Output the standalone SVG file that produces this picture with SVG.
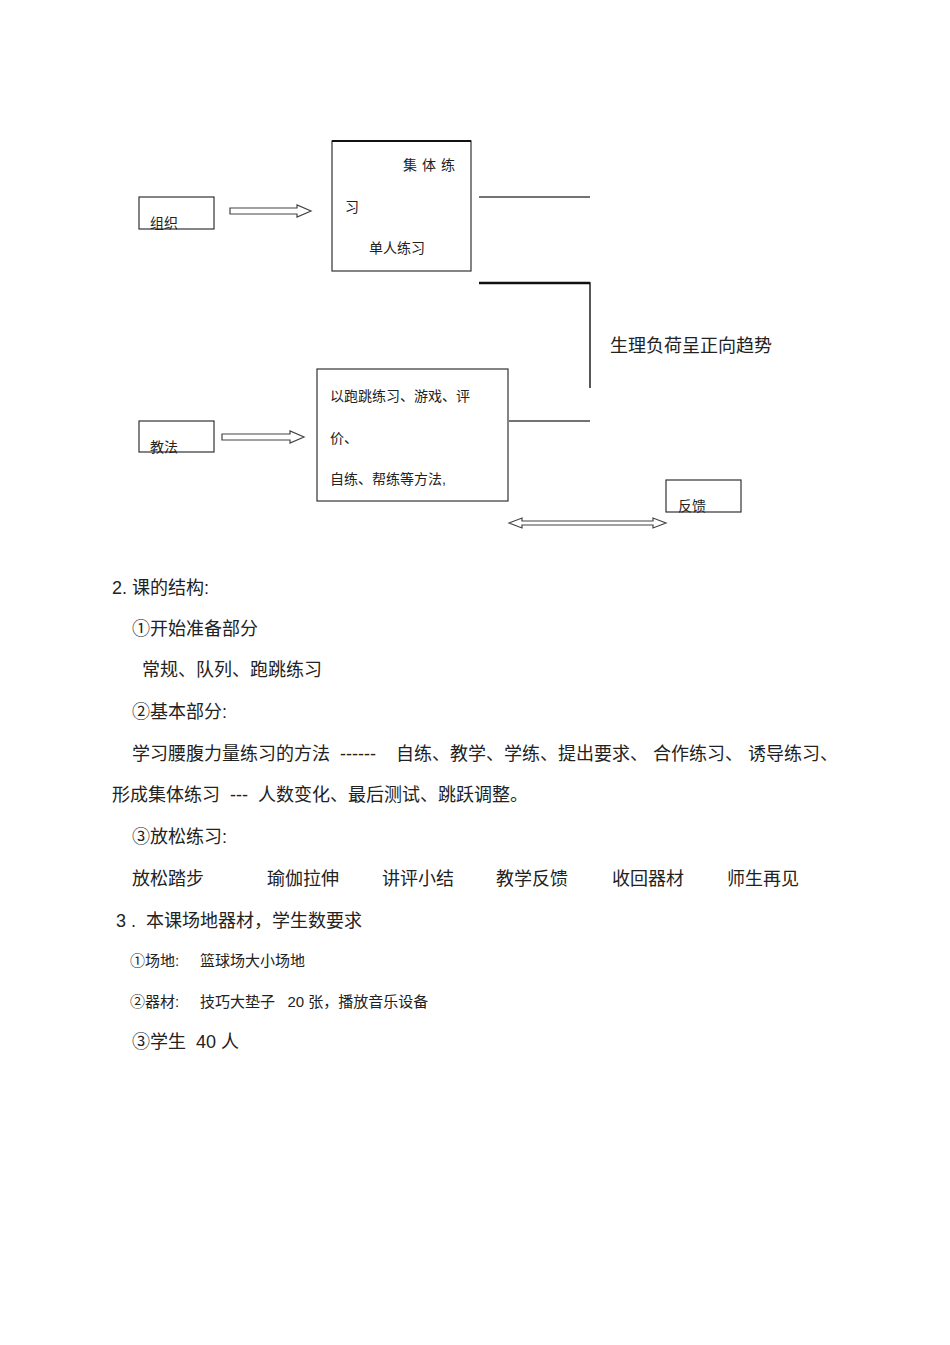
<svg xmlns="http://www.w3.org/2000/svg" width="950" height="1345" viewBox="0 0 950 1345">
<style>
text{font-family:"Liberation Sans","Noto Sans CJK SC",sans-serif;fill:#222}
.s{font-size:14px}.m{font-size:18px}.t{font-size:15px}
.b{fill:#fff;stroke:#333;stroke-width:1.2}
.l{stroke:#444;stroke-width:1.3;fill:none}
.a{fill:#fff;stroke:#444;stroke-width:1.2}
</style>
<rect width="950" height="1345" fill="#fff"/>
<g id="n-zuzhi"><rect class="b" x="139" y="197" width="75" height="32"/><text class="s" x="150" y="228">组织</text></g>
<g id="n-box1"><rect class="b" x="332" y="141" width="139" height="130"/><line x1="332" y1="141" x2="471" y2="141" stroke="#111" stroke-width="2"/>
<text class="s" x="403" y="170" letter-spacing="5">集体练</text><text class="s" x="345" y="212">习</text><text class="s" x="369" y="253">单人练习</text></g>
<g id="n-jiaofa"><rect class="b" x="139" y="421" width="75" height="31"/><text class="s" x="150" y="452">教法</text></g>
<g id="n-box2"><rect class="b" x="317" y="369" width="191" height="132"/>
<text class="s" x="330" y="401">以跑跳练习、游戏、评</text><text class="s" x="330" y="443">价、</text><text class="s" x="330" y="484">自练、帮练等方法,</text></g>
<g id="n-fankui"><rect class="b" x="666" y="480" width="75" height="32"/><text class="s" x="678" y="511">反馈</text></g>
<g id="n-label"><text class="m" x="610" y="352">生理负荷呈正向趋势</text></g>
<g id="connectors">
<path class="a" d="M230 208H297V205L311 211L297 217V214H230Z"/>
<path class="a" d="M222 434H290V431L304 437L290 443V440H222Z"/>
<path class="a" d="M509 523L522 518V521H653V518L666 523L653 528V525H522V528Z"/>
<line class="l" x1="479" y1="197" x2="590" y2="197"/>
<path d="M479 283H590V388" fill="none" stroke="#222" stroke-width="1.5"/>
<line x1="479" y1="283" x2="590" y2="283" stroke="#111" stroke-width="2.5"/>
<line class="l" x1="509" y1="421" x2="590" y2="421"/>
</g>
<g class="m">
<text x="112" y="594">2.  课的结构:</text>
<text x="132" y="635">①开始准备部分</text>
<text x="142" y="676">常规、队列、跑跳练习</text>
<text x="132" y="718">②基本部分:</text>
<text x="132" y="760" xml:space="preserve">学习腰腹力量练习的方法  ------    自练、教学、学练、提出要求、 合作练习、 诱导练习、</text>
<text x="112" y="801" xml:space="preserve">形成集体练习  ---  人数变化、最后测试、跳跃调整。</text>
<text x="132" y="843">③放松练习:</text>
<text x="132" y="885">放松踏步</text><text x="267" y="885">瑜伽拉伸</text><text x="382" y="885">讲评小结</text><text x="496" y="885">教学反馈</text><text x="612" y="885">收回器材</text><text x="727" y="885">师生再见</text>
<text x="116" y="927" xml:space="preserve">3 .  本课场地器材，学生数要求</text>
<text x="132" y="1048" xml:space="preserve">③学生  40 人</text>
</g>
<g class="t">
<text x="130" y="966" xml:space="preserve">①场地:     篮球场大小场地</text>
<text x="130" y="1007" xml:space="preserve">②器材:     技巧大垫子   20 张，播放音乐设备</text>
</g>
</svg>
